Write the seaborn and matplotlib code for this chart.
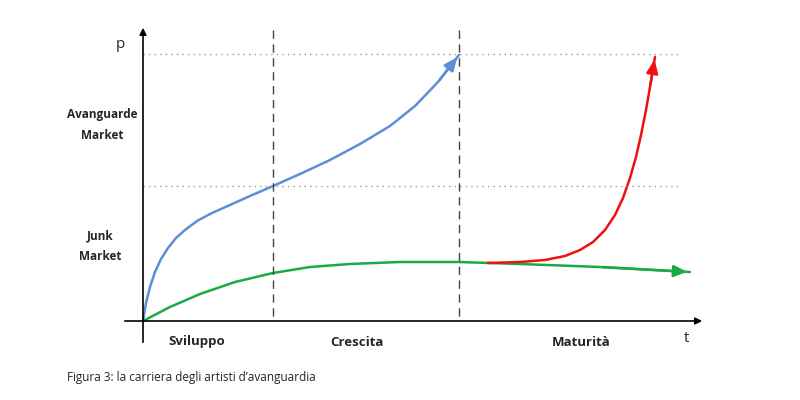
import matplotlib
matplotlib.use("Agg")
import matplotlib.pyplot as plt
import seaborn as sns
import pandas as pd

sns.set_style("white")
plt.rcParams['font.family'] = ['Open Sans', 'DejaVu Sans']

# curves in picture units (x right, y down)
blue_x = [143, 146, 150, 155, 161, 168, 176, 185, 197, 212, 230, 250, 273, 300, 330, 360, 390, 415, 438, 459]
blue_y = [321, 303, 287, 272, 259, 248, 238, 230, 221, 213, 205, 196, 186, 174, 160, 144, 126, 106, 82, 55]
green_x = [143, 170, 200, 235, 273, 310, 350, 400, 459, 520, 600, 690]
green_y = [321, 307, 294, 282, 273, 267, 264, 262, 262, 264, 267, 272]
red_x = [488, 520, 545, 565, 580, 593, 605, 615, 623, 630, 636, 641, 646, 650, 655]
red_y = [263, 262, 260, 256, 250, 242, 230, 215, 198, 178, 157, 135, 110, 87, 57]
phases = ["Sviluppo", "Crescita", "Maturità"]
phase_x = [197, 357, 581]

fig = plt.figure(figsize=(8, 4), dpi=100)
ax = fig.add_axes([0, 0, 1, 1])

for xs, ys, c in [(blue_x, blue_y, "#5b8fd6"), (green_x, green_y, "#1aaa48"), (red_x, red_y, "#ee1111")]:
    df = pd.DataFrame({"x": xs, "y": ys})
    sns.lineplot(data=df, x="x", y="y", sort=False, color=c, lw=1.8, ax=ax,
                 solid_joinstyle="round", solid_capstyle="round")
    ax.annotate("", xy=(xs[-1], ys[-1]), xytext=(xs[-2], ys[-2]),
                arrowprops=dict(arrowstyle="-|>,head_length=0.8,head_width=0.35", color=c, lw=1.8))
ax.set_xlim(0, 800); ax.set_ylim(400, 0); ax.axis("off")
ax.set_position([0, 0, 1, 1])

# axes
ax.annotate("", xy=(705, 321), xytext=(122, 321), arrowprops=dict(arrowstyle="-|>", color="black", lw=1.2))
ax.annotate("", xy=(143, 25), xytext=(143, 345), arrowprops=dict(arrowstyle="-|>", color="black", lw=1.2))
for yy in [54, 186]:
    ax.plot([143, 680], [yy, yy], ls=(0, (1, 3)), color="#999999", lw=1)
for xx in [273, 459]:
    ax.plot([xx, xx], [30, 321], ls=(0, (6, 4)), color="#444444", lw=1)

ax.text(120, 45, "p", fontsize=11, ha="center", va="center")
ax.text(687, 338, "t", fontsize=11, ha="center", va="center")
ax.text(102, 125, "Avanguarde\nMarket", fontsize=8.5, fontweight="bold", ha="center", va="center", linespacing=1.8)
ax.text(100, 246, "Junk\nMarket", fontsize=8.5, fontweight="bold", ha="center", va="center", linespacing=1.8)
for p, px in zip(phases, phase_x):
    ax.text(px, 342, p, fontsize=9.5, fontweight="bold", ha="center", va="center")
ax.text(67, 377, "Figura 3: la carriera degli artisti d’avanguardia", fontsize=8.5, ha="left", va="center")

fig.savefig("out.png", dpi=100)
